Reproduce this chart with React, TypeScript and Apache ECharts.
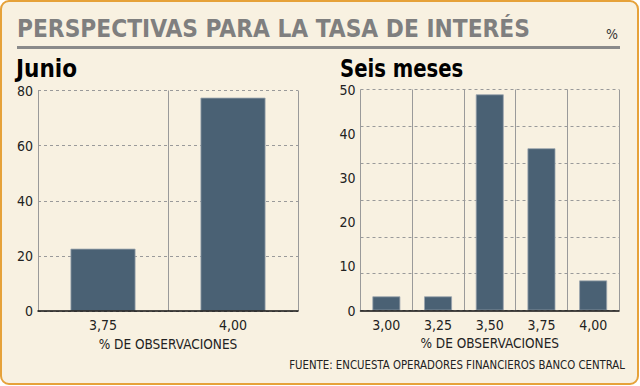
import React, { useEffect, useRef } from "react";
import * as echarts from "echarts";

const titleText = "PERSPECTIVAS PARA LA TASA DE INTERÉS";
const unitText = "%";
const leftTitle = "Junio";
const rightTitle = "Seis meses";
const axisName = "% DE OBSERVACIONES";
const sourceText = "FUENTE: ENCUESTA OPERADORES FINANCIEROS BANCO CENTRAL";

const juneCategories = ["3,75", "4,00"];
const juneValues = [22.6, 77.4];

const sixMonthCategories = ["3,00", "3,25", "3,50", "3,75", "4,00"];
const sixMonthValues = [3.2, 3.2, 48.9, 36.7, 6.8];

const FONT = "'DejaVu Sans Condensed', 'DejaVu Sans', sans-serif";
const BAR = "#4a6174";
const GRID_GRAY = "#9a9a9a";

export default function App() {
  const ref = useRef<HTMLDivElement>(null);

  useEffect(() => {
    if (!ref.current) return;
    const chart = echarts.init(ref.current, undefined, { renderer: "svg" });

    const xAxisBase = (gridIndex: number, data: string[]) => ({
      type: "category",
      gridIndex,
      data,
      boundaryGap: true,
      name: axisName,
      nameLocation: "middle",
      nameGap: 25,
      nameTextStyle: { fontFamily: FONT, fontSize: 13.5, color: "#222" },
      axisLine: { show: true, lineStyle: { color: "#111", width: 1.5 } },
      axisTick: { show: false },
      axisLabel: { fontFamily: FONT, fontSize: 14, color: "#222", margin: 7 },
      splitLine: { show: true, lineStyle: { color: GRID_GRAY, width: 1, type: "solid" } },
      z: 3,
    });

    const option: any = {
      animation: false,
      backgroundColor: "transparent",
      graphic: [
        {
          type: "rect",
          shape: { x: 1, y: 1, width: 637, height: 383, r: 8 },
          style: { fill: "#f8f1e1", stroke: "#e6a23a", lineWidth: 2 },
          z: -10,
        },
        {
          type: "text",
          x: 17,
          y: 28,
          scaleX: 0.97,
          style: {
            text: titleText,
            fontFamily: FONT,
            fontWeight: "bold",
            fontSize: 25,
            fill: "#7f7f7f",
            verticalAlign: "middle",
          },
        },
        {
          type: "line",
          shape: { x1: 17, y1: 47.5, x2: 620, y2: 47.5 },
          style: { stroke: "#8a8a8a", lineWidth: 3 },
        },
        {
          type: "text",
          x: 612,
          y: 34,
          style: { text: unitText, fontFamily: FONT, fontSize: 14, fill: "#333", align: "center", verticalAlign: "middle" },
        },
        {
          type: "text",
          x: 16,
          y: 69,
          style: { text: leftTitle, fontFamily: FONT, fontWeight: "bold", fontSize: 24, fill: "#000", verticalAlign: "middle" },
        },
        {
          type: "text",
          x: 340,
          y: 69,
          scaleX: 0.91,
          style: { text: rightTitle, fontFamily: FONT, fontWeight: "bold", fontSize: 24, fill: "#000", verticalAlign: "middle" },
        },
        {
          type: "text",
          x: 625,
          y: 365,
          scaleX: 0.944,
          style: { text: sourceText, fontFamily: FONT, fontSize: 12, fill: "#222", align: "right", verticalAlign: "middle" },
        },
      ],
      grid: [
        { left: 38, top: 90.5, width: 260, height: 220.5 },
        { left: 360.5, top: 89.5, width: 258.5, height: 221 },
      ],
      xAxis: [xAxisBase(0, juneCategories), xAxisBase(1, sixMonthCategories)],
      yAxis: [
        {
          type: "value",
          gridIndex: 0,
          position: "left",
          min: 0,
          max: 80,
          interval: 20,
          axisLine: { show: false },
          axisTick: { show: false },
          axisLabel: { fontFamily: FONT, fontSize: 14, color: "#222", margin: 5 },
          splitLine: { show: true, lineStyle: { color: GRID_GRAY, type: [3, 3], width: 1 } },
        },
        {
          type: "value",
          gridIndex: 1,
          position: "left",
          min: 0,
          max: 50,
          interval: 50 / 6,
          axisLine: { show: false },
          axisTick: { show: false },
          axisLabel: { show: false },
          splitLine: { show: true, lineStyle: { color: GRID_GRAY, type: [3, 3], width: 1 } },
        },
        {
          type: "value",
          gridIndex: 1,
          position: "left",
          offset: 0,
          min: 0,
          max: 50,
          interval: 10,
          axisLine: { show: false },
          axisTick: { show: false },
          axisLabel: { fontFamily: FONT, fontSize: 14, color: "#222", margin: 5 },
          splitLine: { show: false },
        },
      ],
      series: [
        {
          type: "bar",
          xAxisIndex: 0,
          yAxisIndex: 0,
          data: juneValues,
          barWidth: "50%",
          itemStyle: { color: BAR, borderColor: "#9aa4ad", borderWidth: 0.8 },
          z: 2,
        },
        {
          type: "bar",
          xAxisIndex: 1,
          yAxisIndex: 2,
          data: sixMonthValues,
          barWidth: "54%",
          itemStyle: { color: BAR, borderColor: "#9aa4ad", borderWidth: 0.8 },
          z: 2,
        },
      ],
    };

    chart.setOption(option);
    return () => chart.dispose();
  }, []);

  return (
    <div
      ref={ref}
      style={{ position: "fixed", left: 0, top: 0, width: 640, height: 386, background: "#ffffff" }}
    />
  );
}
